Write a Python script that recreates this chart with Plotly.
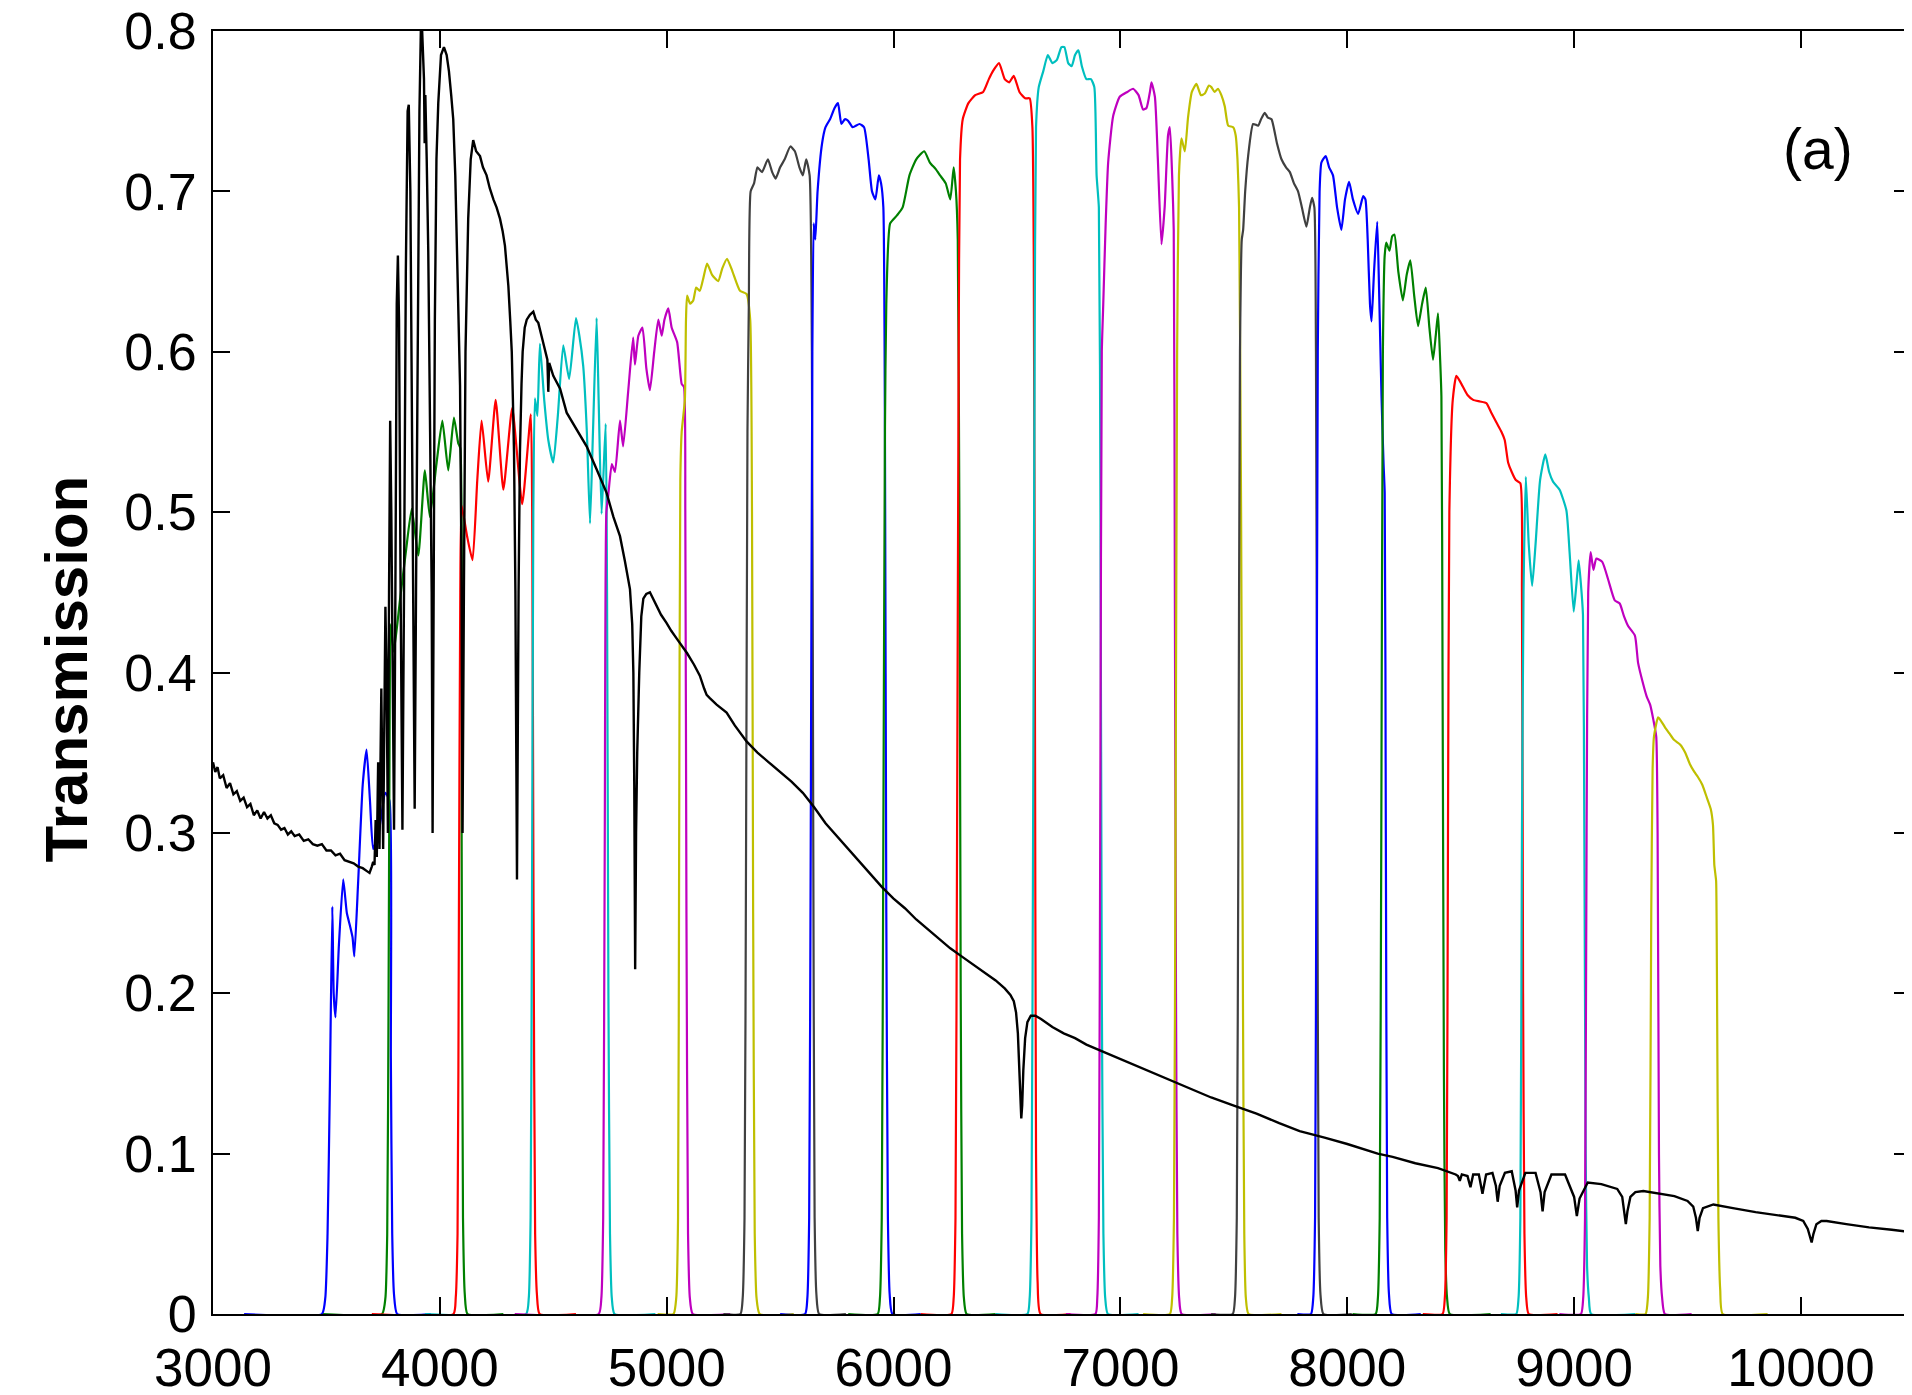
import plotly.graph_objects as go

# ---------------- data ----------------
x_ticks = [3000, 4000, 5000, 6000, 7000, 8000, 9000, 10000]
y_ticks = [0, 0.1, 0.2, 0.3, 0.4, 0.5, 0.6, 0.7, 0.8]
y_tick_labels = ["0", "0.1", "0.2", "0.3", "0.4", "0.5", "0.6", "0.7", "0.8"]
y_title = "Transmission"
panel_label = "(a)"

filter_colors = ["#0000FF", "#008000", "#FF0000", "#00BFBF", "#BF00BF", "#BFBF00", "#404040",
                 "#0000FF", "#008000", "#FF0000", "#00BFBF", "#BF00BF", "#BFBF00", "#404040",
                 "#0000FF", "#008000", "#FF0000", "#00BFBF", "#BF00BF", "#BFBF00"]

f01_wl = [3137, 3480, 3495, 3505, 3515, 3526, 3532, 3540, 3555, 3574, 3590, 3604, 3615, 3623, 3640, 3660, 3677, 3692, 3706, 3730, 3760, 3778, 3784, 3790, 3798, 3812, 3960]
f01_tr = [0, 0, 0.01, 0.05, 0.14, 0.254, 0.2, 0.185, 0.23, 0.271, 0.25, 0.242, 0.235, 0.223, 0.27, 0.33, 0.352, 0.32, 0.29, 0.30, 0.325, 0.32, 0.16, 0.05, 0.012, 0, 0]

f02_wl = [3485, 3745, 3760, 3768, 3774, 3779, 3783, 3797, 3824, 3850, 3876, 3905, 3934, 3956, 3985, 4011, 4037, 4062, 4081, 4090, 4096, 4102, 4110, 4122, 4280]
f02_tr = [0, 0, 0.01, 0.05, 0.2, 0.38, 0.43, 0.413, 0.445, 0.475, 0.502, 0.473, 0.526, 0.497, 0.53, 0.557, 0.526, 0.559, 0.543, 0.54, 0.3, 0.06, 0.012, 0, 0]

f03_wl = [3700, 4060, 4070, 4078, 4084, 4090, 4096, 4120, 4144, 4165, 4184, 4213, 4246, 4280, 4319, 4363, 4401, 4407, 4413, 4420, 4428, 4440, 4600]
f03_tr = [0, 0, 0.01, 0.05, 0.25, 0.45, 0.504, 0.485, 0.47, 0.52, 0.557, 0.519, 0.57, 0.514, 0.565, 0.505, 0.561, 0.5, 0.25, 0.05, 0.012, 0, 0]

f04_wl = [3935, 4380, 4392, 4400, 4406, 4412, 4419, 4430, 4441, 4460, 4478, 4500, 4520, 4544, 4570, 4600, 4615, 4632, 4648, 4662, 4675, 4691, 4700, 4713, 4731, 4737, 4743, 4750, 4758, 4770, 4950]
f04_tr = [0, 0, 0.01, 0.06, 0.25, 0.5, 0.571, 0.56, 0.605, 0.57, 0.545, 0.531, 0.56, 0.604, 0.583, 0.621, 0.61, 0.591, 0.55, 0.493, 0.55, 0.621, 0.57, 0.499, 0.555, 0.45, 0.2, 0.05, 0.01, 0, 0]

f05_wl = [4330, 4700, 4712, 4720, 4727, 4734, 4742, 4758, 4772, 4794, 4808, 4830, 4852, 4860, 4875, 4893, 4910, 4926, 4945, 4963, 4978, 4990, 5007, 5022, 5046, 5066, 5076, 5082, 5087, 5094, 5102, 5115, 5280]
f05_tr = [0, 0, 0.01, 0.06, 0.3, 0.5, 0.51, 0.53, 0.525, 0.557, 0.541, 0.575, 0.609, 0.592, 0.61, 0.615, 0.59, 0.576, 0.6, 0.62, 0.61, 0.62, 0.627, 0.615, 0.606, 0.58, 0.578, 0.5, 0.25, 0.05, 0.01, 0, 0]

f06_wl = [4960, 5030, 5042, 5050, 5055, 5060, 5066, 5080, 5085, 5090, 5103, 5117, 5130, 5146, 5160, 5178, 5200, 5227, 5245, 5266, 5290, 5323, 5352, 5368, 5376, 5381, 5388, 5396, 5410, 5560]
f06_tr = [0, 0, 0.01, 0.06, 0.3, 0.52, 0.55, 0.57, 0.62, 0.635, 0.63, 0.632, 0.64, 0.638, 0.645, 0.655, 0.648, 0.644, 0.652, 0.658, 0.65, 0.638, 0.636, 0.62, 0.5, 0.25, 0.05, 0.01, 0, 0]

f07_wl = [5250, 5325, 5335, 5343, 5350, 5356, 5362, 5370, 5385, 5400, 5420, 5446, 5465, 5480, 5500, 5520, 5545, 5565, 5585, 5600, 5615, 5630, 5640, 5646, 5652, 5660, 5672, 5790]
f07_tr = [0, 0, 0.01, 0.06, 0.3, 0.55, 0.63, 0.7, 0.705, 0.715, 0.712, 0.72, 0.712, 0.708, 0.715, 0.72, 0.728, 0.725, 0.715, 0.71, 0.72, 0.71, 0.6, 0.3, 0.06, 0.012, 0, 0]

f08_wl = [5500, 5610, 5620, 5628, 5635, 5642, 5648, 5655, 5665, 5685, 5700, 5720, 5740, 5755, 5770, 5785, 5800, 5820, 5850, 5870, 5890, 5905, 5920, 5935, 5945, 5955, 5962, 5968, 5975, 5983, 5995, 6120]
f08_tr = [0, 0, 0.01, 0.06, 0.3, 0.6, 0.68, 0.67, 0.7, 0.73, 0.74, 0.745, 0.752, 0.755, 0.742, 0.745, 0.744, 0.74, 0.742, 0.74, 0.72, 0.7, 0.695, 0.71, 0.705, 0.69, 0.55, 0.25, 0.06, 0.012, 0, 0]

f09_wl = [5800, 5930, 5940, 5948, 5955, 5962, 5968, 5985, 6015, 6040, 6070, 6100, 6135, 6160, 6185, 6205, 6230, 6250, 6265, 6275, 6283, 6290, 6296, 6302, 6310, 6322, 6450]
f09_tr = [0, 0, 0.01, 0.06, 0.3, 0.55, 0.63, 0.68, 0.685, 0.69, 0.71, 0.72, 0.725, 0.718, 0.714, 0.71, 0.705, 0.695, 0.715, 0.7, 0.67, 0.5, 0.2, 0.05, 0.01, 0, 0]

f10_wl = [6120, 6255, 6265, 6273, 6280, 6287, 6293, 6305, 6330, 6360, 6395, 6420, 6438, 6465, 6490, 6510, 6530, 6555, 6580, 6600, 6612, 6618, 6623, 6628, 6635, 6648, 6780]
f10_tr = [0, 0, 0.01, 0.06, 0.3, 0.6, 0.72, 0.745, 0.755, 0.76, 0.762, 0.77, 0.775, 0.78, 0.77, 0.768, 0.772, 0.762, 0.758, 0.758, 0.74, 0.66, 0.4, 0.1, 0.02, 0, 0]

f11_wl = [6450, 6590, 6600, 6608, 6615, 6622, 6628, 6640, 6660, 6680, 6700, 6720, 6740, 6753, 6770, 6785, 6800, 6815, 6830, 6850, 6870, 6885, 6895, 6905, 6912, 6918, 6925, 6933, 6945, 7080]
f11_tr = [0, 0, 0.01, 0.06, 0.3, 0.6, 0.74, 0.765, 0.775, 0.785, 0.78, 0.782, 0.79, 0.79, 0.78, 0.778, 0.785, 0.788, 0.778, 0.77, 0.77, 0.765, 0.71, 0.69, 0.5, 0.2, 0.05, 0.01, 0, 0]

f12_wl = [6760, 6890, 6898, 6905, 6912, 6918, 6924, 6935, 6946, 6968, 6997, 7030, 7056, 7080, 7100, 7115, 7130, 7137, 7152, 7165, 7181, 7195, 7210, 7218, 7228, 7235, 7240, 7245, 7251, 7259, 7270, 7420]
f12_tr = [0, 0, 0.01, 0.06, 0.35, 0.6, 0.628, 0.68, 0.718, 0.747, 0.759, 0.762, 0.764, 0.76, 0.751, 0.752, 0.762, 0.768, 0.759, 0.72, 0.667, 0.69, 0.735, 0.74, 0.71, 0.676, 0.45, 0.2, 0.05, 0.01, 0, 0]

f13_wl = [7100, 7218, 7228, 7236, 7243, 7250, 7258, 7269, 7284, 7298, 7315, 7335, 7355, 7372, 7390, 7401, 7415, 7430, 7445, 7460, 7475, 7497, 7508, 7516, 7523, 7532, 7540, 7546, 7553, 7565, 7710]
f13_tr = [0, 0, 0.01, 0.06, 0.3, 0.6, 0.71, 0.733, 0.725, 0.746, 0.762, 0.767, 0.76, 0.761, 0.766, 0.765, 0.762, 0.764, 0.76, 0.753, 0.741, 0.74, 0.735, 0.72, 0.69, 0.5, 0.2, 0.05, 0.01, 0, 0]

f14_wl = [7400, 7495, 7505, 7513, 7520, 7527, 7535, 7541, 7550, 7563, 7585, 7607, 7620, 7636, 7650, 7666, 7690, 7710, 7730, 7747, 7765, 7783, 7800, 7820, 7835, 7845, 7855, 7862, 7868, 7874, 7882, 7895, 8020]
f14_tr = [0, 0, 0.01, 0.06, 0.3, 0.6, 0.67, 0.676, 0.7, 0.722, 0.742, 0.741, 0.745, 0.749, 0.746, 0.745, 0.73, 0.72, 0.715, 0.712, 0.705, 0.7, 0.69, 0.678, 0.69, 0.696, 0.69, 0.6, 0.3, 0.06, 0.012, 0, 0]

f15_wl = [7780, 7840, 7850, 7858, 7864, 7870, 7878, 7886, 7905, 7920, 7937, 7955, 7974, 7990, 8008, 8025, 8048, 8070, 8080, 8090, 8100, 8107, 8118, 8132, 8140, 8151, 8160, 8165, 8170, 8176, 8184, 8196, 8324]
f15_tr = [0, 0, 0.01, 0.06, 0.3, 0.6, 0.7, 0.718, 0.722, 0.715, 0.71, 0.69, 0.676, 0.695, 0.706, 0.695, 0.686, 0.697, 0.695, 0.67, 0.63, 0.619, 0.65, 0.681, 0.64, 0.572, 0.53, 0.512, 0.3, 0.06, 0.012, 0, 0]

f16_wl = [8023, 8125, 8135, 8143, 8150, 8157, 8165, 8172, 8186, 8198, 8208, 8225, 8245, 8262, 8278, 8295, 8312, 8330, 8346, 8362, 8378, 8390, 8400, 8408, 8415, 8420, 8426, 8432, 8440, 8452, 8632]
f16_tr = [0, 0, 0.01, 0.06, 0.3, 0.6, 0.66, 0.668, 0.663, 0.672, 0.673, 0.65, 0.632, 0.648, 0.657, 0.635, 0.616, 0.63, 0.64, 0.615, 0.595, 0.61, 0.624, 0.6, 0.572, 0.4, 0.15, 0.04, 0.01, 0, 0]

f17_wl = [8333, 8420, 8430, 8438, 8444, 8450, 8465, 8481, 8503, 8530, 8555, 8585, 8613, 8635, 8657, 8680, 8694, 8709, 8725, 8743, 8763, 8770, 8775, 8781, 8789, 8800, 8927]
f17_tr = [0, 0, 0.01, 0.06, 0.3, 0.5, 0.57, 0.585, 0.58, 0.573, 0.57, 0.569, 0.568, 0.562, 0.556, 0.55, 0.545, 0.531, 0.525, 0.52, 0.518, 0.45, 0.2, 0.05, 0.01, 0, 0]

f18_wl = [8677, 8745, 8755, 8763, 8770, 8777, 8787, 8800, 8815, 8830, 8850, 8873, 8890, 8907, 8936, 8966, 8980, 8998, 9010, 9020, 9030, 9039, 9045, 9051, 9057, 9065, 9075, 9270]
f18_tr = [0, 0, 0.01, 0.06, 0.3, 0.45, 0.522, 0.48, 0.454, 0.48, 0.52, 0.536, 0.525, 0.519, 0.514, 0.501, 0.475, 0.438, 0.455, 0.47, 0.455, 0.436, 0.3, 0.1, 0.03, 0.01, 0, 0]

f19_wl = [8935, 9030, 9040, 9048, 9055, 9062, 9073, 9085, 9098, 9124, 9150, 9179, 9201, 9220, 9238, 9268, 9282, 9304, 9320, 9335, 9350, 9362, 9368, 9374, 9380, 9388, 9400, 9518]
f19_tr = [0, 0, 0.01, 0.06, 0.3, 0.45, 0.475, 0.464, 0.471, 0.469, 0.458, 0.445, 0.443, 0.435, 0.429, 0.423, 0.406, 0.393, 0.385, 0.38, 0.37, 0.36, 0.3, 0.1, 0.03, 0.01, 0, 0]

f20_wl = [9270, 9315, 9325, 9333, 9340, 9346, 9352, 9370, 9382, 9400, 9420, 9440, 9468, 9490, 9510, 9530, 9545, 9565, 9585, 9602, 9612, 9618, 9622, 9626, 9630, 9636, 9644, 9655, 9853]
f20_tr = [0, 0, 0.01, 0.06, 0.25, 0.34, 0.36, 0.372, 0.37, 0.366, 0.362, 0.358, 0.355, 0.35, 0.343, 0.338, 0.335, 0.33, 0.322, 0.315, 0.305, 0.28, 0.275, 0.27, 0.2, 0.06, 0.015, 0, 0]

# stellar spectrum (black)
spec_wl = [3000, 3010, 3020, 3030, 3045, 3060, 3075, 3090, 3105, 3120, 3135, 3150, 3165, 3180, 3195, 3210, 3225, 3240, 3255, 3270,
           3285, 3300, 3315, 3330, 3345, 3360, 3380, 3400, 3420, 3440, 3460, 3480, 3500, 3520, 3540, 3560, 3580, 3600, 3620, 3640,
           3660, 3680, 3690, 3700, 3706, 3712, 3717, 3722, 3728, 3734, 3742, 3750, 3756, 3760, 3765, 3771, 3776, 3781, 3786, 3792,
           3798, 3804, 3810, 3815, 3820, 3827, 3835, 3842, 3850, 3858, 3863, 3870, 3878, 3884, 3889, 3895, 3902, 3910, 3918, 3925,
           3930, 3933, 3936, 3942, 3949, 3957, 3964, 3968, 3972, 3978, 3985, 3993, 4005, 4018, 4030, 4040, 4050, 4059, 4068, 4073,
           4082, 4089, 4095, 4100, 4106, 4113, 4125, 4136, 4147, 4160, 4177, 4190, 4206, 4220, 4236, 4250, 4265, 4277, 4287, 4295,
           4302, 4310, 4317, 4322, 4327, 4333, 4340, 4347, 4353, 4360, 4365, 4374, 4383, 4397, 4412, 4423, 4434, 4448, 4463, 4474,
           4478, 4482, 4500, 4530, 4559, 4600, 4647, 4690, 4735, 4765, 4794, 4815, 4838, 4848, 4853, 4857, 4861, 4865, 4870, 4879,
           4888, 4897, 4910, 4926, 4950, 4975, 4999, 5020, 5045, 5066, 5090, 5120, 5146, 5165, 5176, 5190, 5220, 5264, 5300, 5352,
           5400, 5450, 5500, 5550, 5600, 5650, 5700, 5750, 5800, 5850, 5900, 5950, 6000, 6050, 6100, 6150, 6200, 6250, 6300, 6350,
           6400, 6450, 6490, 6515, 6530, 6540, 6548, 6555, 6560, 6563, 6567, 6572, 6580, 6590, 6605, 6625, 6650, 6700, 6750, 6800,
           6850, 6900, 6950, 7000, 7100, 7200, 7300, 7400, 7500, 7600, 7700, 7790, 7900, 8000, 8134, 8200, 8300, 8400, 8478, 8488,
           8496, 8505, 8530, 8543, 8555, 8580, 8596, 8612, 8640, 8655, 8663, 8672, 8695, 8725, 8742, 8749, 8757, 8785, 8830, 8852,
           8861, 8870, 8900, 8960, 9000, 9012, 9024, 9060, 9120, 9190, 9212, 9222, 9228, 9235, 9248, 9270, 9305, 9442, 9500, 9525,
           9537, 9545, 9553, 9568, 9614, 9700, 9800, 9975, 10010, 10030, 10040, 10047, 10055, 10068, 10090, 10113, 10200, 10300, 10400, 10488]
spec_tr = [0.344, 0.338, 0.341, 0.334, 0.336, 0.328, 0.331, 0.324, 0.326, 0.320, 0.322, 0.316, 0.318, 0.311, 0.314, 0.309, 0.313, 0.309, 0.311, 0.306,
           0.305, 0.302, 0.303, 0.299, 0.301, 0.298, 0.299, 0.295, 0.296, 0.293, 0.292, 0.293, 0.289, 0.289, 0.286, 0.287, 0.283, 0.282, 0.281, 0.279,
           0.278, 0.276, 0.275, 0.279, 0.282, 0.280, 0.308, 0.285, 0.344, 0.290, 0.390, 0.290, 0.400, 0.441, 0.400, 0.300, 0.450, 0.557, 0.500, 0.380,
           0.302, 0.450, 0.630, 0.660, 0.620, 0.450, 0.302, 0.450, 0.650, 0.750, 0.754, 0.700, 0.550, 0.400, 0.315, 0.450, 0.620, 0.750, 0.815, 0.780,
           0.770, 0.730, 0.760, 0.720, 0.662, 0.550, 0.450, 0.300, 0.420, 0.620, 0.720, 0.755, 0.785, 0.790, 0.785, 0.775, 0.760, 0.745, 0.710, 0.683,
           0.630, 0.579, 0.470, 0.300, 0.450, 0.600, 0.683, 0.720, 0.732, 0.725, 0.722, 0.715, 0.710, 0.702, 0.695, 0.690, 0.683, 0.675, 0.666, 0.655,
           0.641, 0.620, 0.600, 0.570, 0.537, 0.450, 0.271, 0.450, 0.537, 0.580, 0.600, 0.615, 0.620, 0.623, 0.625, 0.620, 0.618, 0.610, 0.601, 0.595,
           0.575, 0.593, 0.585, 0.577, 0.562, 0.552, 0.541, 0.527, 0.512, 0.497, 0.485, 0.470, 0.452, 0.430, 0.400, 0.330, 0.215, 0.300, 0.350, 0.400,
           0.435, 0.446, 0.449, 0.450, 0.443, 0.436, 0.431, 0.426, 0.421, 0.417, 0.412, 0.405, 0.398, 0.390, 0.386, 0.384, 0.380, 0.375, 0.367, 0.357,
           0.350, 0.344, 0.338, 0.332, 0.325, 0.316, 0.306, 0.298, 0.290, 0.282, 0.274, 0.266, 0.259, 0.253, 0.246, 0.240, 0.234, 0.228, 0.223, 0.218,
           0.213, 0.208, 0.203, 0.199, 0.195, 0.188, 0.175, 0.150, 0.128, 0.122, 0.130, 0.152, 0.172, 0.182, 0.186, 0.186, 0.184, 0.179, 0.175, 0.172,
           0.168, 0.165, 0.162, 0.159, 0.153, 0.147, 0.141, 0.135, 0.130, 0.125, 0.119, 0.114, 0.110, 0.106, 0.100, 0.098, 0.094, 0.091, 0.087, 0.086,
           0.083, 0.087, 0.086, 0.079, 0.087, 0.087, 0.075, 0.087, 0.088, 0.080, 0.070, 0.080, 0.088, 0.089, 0.077, 0.0665, 0.077, 0.088, 0.088, 0.076,
           0.064, 0.076, 0.087, 0.087, 0.073, 0.061, 0.072, 0.082, 0.081, 0.078, 0.073, 0.064, 0.056, 0.064, 0.073, 0.076, 0.0767, 0.0735, 0.0705, 0.067,
           0.060, 0.0517, 0.060, 0.066, 0.0683, 0.066, 0.0635, 0.060, 0.058, 0.053, 0.047, 0.0446, 0.050, 0.056, 0.058, 0.058, 0.056, 0.054, 0.0525, 0.051]

filters_wl = [f01_wl, f02_wl, f03_wl, f04_wl, f05_wl, f06_wl, f07_wl, f08_wl, f09_wl, f10_wl,
              f11_wl, f12_wl, f13_wl, f14_wl, f15_wl, f16_wl, f17_wl, f18_wl, f19_wl, f20_wl]
filters_tr = [f01_tr, f02_tr, f03_tr, f04_tr, f05_tr, f06_tr, f07_tr, f08_tr, f09_tr, f10_tr,
              f11_tr, f12_tr, f13_tr, f14_tr, f15_tr, f16_tr, f17_tr, f18_tr, f19_tr, f20_tr]

# ---------------- figure ----------------
FONT = "Liberation Sans, Arial, Helvetica, sans-serif"
fig = go.Figure()

for wl, tr, col in zip(filters_wl, filters_tr, filter_colors):
    fig.add_trace(go.Scatter(x=wl, y=tr, mode="lines",
                             line=dict(color=col, width=2.2, shape="spline", smoothing=0.5),
                             hoverinfo="skip", showlegend=False))

fig.add_trace(go.Scatter(x=spec_wl, y=spec_tr, mode="lines",
                         line=dict(color="black", width=2.4),
                         hoverinfo="skip", showlegend=False))

axis_common = dict(showline=True, linecolor="black", linewidth=2, mirror="ticks",
                   ticks="inside", ticklen=17, tickwidth=2, tickcolor="black",
                   showgrid=False, zeroline=False, automargin=False,
                   ticklabeloverflow="allow")

# the page body adds an 8 px offset, so the figure is sized/margined to compensate
fig.update_layout(
    template="none",
    width=1904, height=1387,
    margin=dict(l=205, r=1, t=23, b=81, pad=0),
    paper_bgcolor="white", plot_bgcolor="white",
    font=dict(family=FONT, color="black"),
    xaxis=dict(range=[3000, 10485], tickvals=x_ticks, ticktext=[str(v) for v in x_ticks],
               tickfont=dict(size=53, family=FONT, color="black"), ticklabelstandoff=6,
               **axis_common),
    yaxis=dict(range=[0, 0.8], tickvals=y_ticks, ticktext=y_tick_labels,
               tickfont=dict(size=52, family=FONT, color="black"), ticklabelstandoff=4,
               **axis_common),
    annotations=[
        dict(text="<b>" + y_title + "</b>", xref="paper", yref="paper",
             x=-0.086, y=0.503, xanchor="center", yanchor="middle", textangle=-90,
             showarrow=False, font=dict(size=60, family=FONT, color="black")),
        dict(text=panel_label, xref="paper", yref="paper",
             x=0.945, y=0.908, xanchor="center", yanchor="middle",
             showarrow=False, font=dict(size=57, family=FONT, color="black")),
    ],
)

fig.write_html("out.html")
